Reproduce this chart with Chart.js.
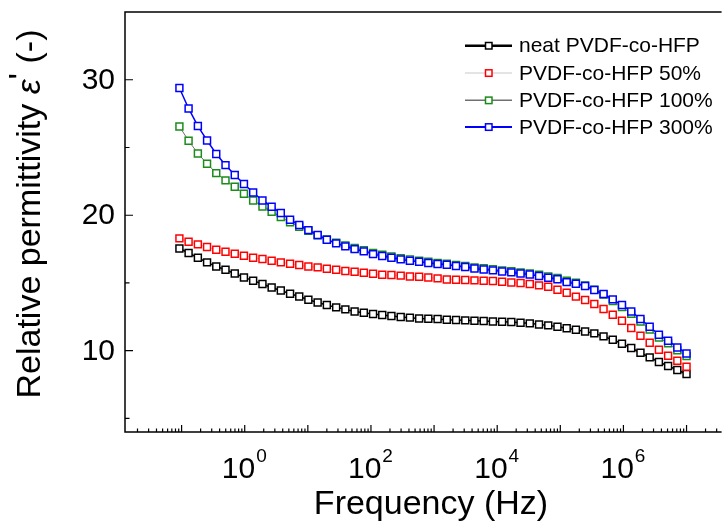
<!DOCTYPE html>
<html><head><meta charset="utf-8">
<script src="https://cdn.jsdelivr.net/npm/chart.js@4/dist/chart.umd.min.js"></script>
<style>html,body{margin:0;padding:0;background:#fff;}canvas{display:block;}</style>
</head><body>
<canvas id="c" width="726" height="521"></canvas>
<script>
// Frequency (Hz)
const frequencies = [0.0923,0.129,0.181,0.253,0.354,0.496,0.695,0.972,1.36,1.91,2.67,3.73,5.23,7.31,10.2,14.3,20.0,28.1,39.3,55.1,77.1,108,151,211,296,414,580,811,1137,1591,2228,3119,4365,6109,8551,11970,16750,23440,32810,46010,64420,90160,126200,176600,247200,345900,484200,677600,948400,1330000,1862000,2606000,3648000,5105000,7145000,10000000];
const neatPVDF = [17.55,17.21,16.86,16.52,16.22,15.98,15.70,15.41,15.17,14.92,14.67,14.45,14.21,14.00,13.76,13.56,13.37,13.20,13.05,12.90,12.80,12.71,12.63,12.56,12.49,12.44,12.38,12.36,12.34,12.29,12.27,12.24,12.21,12.19,12.16,12.14,12.12,12.07,12.02,11.94,11.87,11.77,11.66,11.55,11.42,11.28,11.06,10.81,10.52,10.20,9.85,9.51,9.17,8.87,8.58,8.28];
const pvdf50 = [18.29,18.04,17.85,17.65,17.45,17.31,17.16,17.01,16.86,16.77,16.64,16.52,16.42,16.32,16.22,16.15,16.05,15.98,15.88,15.83,15.76,15.68,15.61,15.59,15.54,15.48,15.46,15.41,15.34,15.26,15.24,15.22,15.19,15.17,15.14,15.09,15.04,15.00,14.92,14.82,14.72,14.50,14.28,13.99,13.74,13.45,13.08,12.66,12.21,11.68,11.11,10.59,10.07,9.63,9.26,8.82];
const pvdf100 = [26.55,25.50,24.56,23.80,23.11,22.57,22.10,21.59,21.09,20.65,20.26,19.87,19.47,19.15,18.85,18.52,18.22,17.98,17.77,17.58,17.41,17.22,17.08,16.95,16.83,16.73,16.65,16.56,16.48,16.43,16.33,16.26,16.15,16.08,16.01,15.93,15.86,15.78,15.71,15.60,15.48,15.37,15.16,15.02,14.82,14.50,14.15,13.67,13.22,12.73,12.16,11.57,10.98,10.54,10.04,9.60];
const pvdf300 = [29.39,27.88,26.58,25.52,24.52,23.70,22.97,22.30,21.68,21.09,20.63,20.16,19.67,19.28,18.90,18.54,18.19,17.92,17.70,17.50,17.33,17.13,16.99,16.86,16.74,16.64,16.57,16.48,16.40,16.35,16.25,16.18,16.07,16.00,15.93,15.85,15.78,15.70,15.63,15.51,15.39,15.27,15.06,14.94,14.77,14.48,14.18,13.79,13.37,12.90,12.34,11.77,11.18,10.74,10.24,9.80];
const seriesNames = ['neat PVDF-co-HFP','PVDF-co-HFP 50%','PVDF-co-HFP 100%','PVDF-co-HFP 300%'];
const yMajorTicks = [10,20,30];
const yMinorTicks = [5,15,25];
const xLabelExponents = [0,2,4,6];
const xTitle = 'Frequency (Hz)';

const FONT = '"Liberation Sans", Arial, sans-serif';
const markerColors = ['#000000','#ff0000','#1a8c1a','#0000ff'];
const lineColors = ['#000000','#c8c8c8','#707070','#0000ff'];
const lineWidths = [1.5,1,1,1.5];
const legendLineWidths = [2.5,1,1.5,2];
const seriesValues = [neatPVDF,pvdf50,pvdf100,pvdf300];

const datasets = seriesValues.map((vals,k)=>({
  label: seriesNames[k],
  data: frequencies.map((f,i)=>({x:f,y:vals[i]})),
  borderColor: lineColors[k],
  borderWidth: lineWidths[k],
  pointStyle: 'rect',
  pointRadius: 4.9,
  pointBorderWidth: 1.5,
  pointBorderColor: markerColors[k],
  pointBackgroundColor: '#ffffff',
  order: 3-k,
  tension: 0
}));

const frame = {
  id:'frame',
  afterDraw(chart){
    const {ctx, chartArea:a, scales:{x,y}} = chart;
    ctx.save();
    ctx.strokeStyle='#000'; ctx.lineWidth=1.5;
    ctx.beginPath();
    ctx.moveTo(a.right+2,a.top); ctx.lineTo(a.left,a.top); ctx.lineTo(a.left,a.bottom); ctx.lineTo(a.right+2,a.bottom);
    ctx.stroke();
    ctx.lineWidth=1.2;
    ctx.beginPath();
    yMajorTicks.forEach(v=>{const p=y.getPixelForValue(v); ctx.moveTo(a.left,p); ctx.lineTo(a.left+8,p);});
    yMinorTicks.forEach(v=>{const p=y.getPixelForValue(v); ctx.moveTo(a.left,p); ctx.lineTo(a.left+4.5,p);});
    for(let e=-3;e<=8;e++){
      for(let k=1;k<=9;k++){
        const v=k*Math.pow(10,e);
        if(v<x.min||v>x.max) continue;
        const p=x.getPixelForValue(v);
        ctx.moveTo(p,a.bottom); ctx.lineTo(p,a.bottom-(k===1?7:3.5));
      }
    }
    ctx.stroke();
    ctx.fillStyle='#000';
    ctx.font='30px '+FONT;
    ctx.textAlign='right'; ctx.textBaseline='middle';
    yMajorTicks.forEach(v=>ctx.fillText(String(v),115,y.getPixelForValue(v)+1));
    xLabelExponents.forEach(e=>{
      const p=x.getPixelForValue(Math.pow(10,e));
      ctx.font='30px '+FONT;
      const w1=ctx.measureText('10').width;
      ctx.font='19px '+FONT;
      const w2=ctx.measureText(String(e)).width;
      const start=p-(w1+w2)/2-1;
      ctx.textAlign='left'; ctx.textBaseline='alphabetic';
      ctx.font='30px '+FONT;
      ctx.fillText('10',start,478);
      ctx.font='19px '+FONT;
      ctx.fillText(String(e),start+w1+1,462);
    });
    ctx.font='34px '+FONT; ctx.textAlign='center'; ctx.textBaseline='alphabetic';
    ctx.fillText(xTitle,431,514);
    ctx.save();
    ctx.translate(40,214); ctx.rotate(-Math.PI/2);
    const parts=[['Relative permittivity ','normal'],['ε','italic'],["'",'normal'],[' (-)','normal']];
    let total=0;
    parts.forEach(([t,s])=>{ctx.font=(s==='italic'?'italic ':'')+'34px '+FONT; total+=ctx.measureText(t).width;});
    let cx=-total/2;
    ctx.textAlign='left';
    parts.forEach(([t,s],i)=>{
      ctx.font=(s==='italic'?'italic ':'')+'34px '+FONT;
      ctx.fillText(t,cx,i===2?-8:0);
      cx+=ctx.measureText(t).width;
    });
    ctx.restore();
    const rows=[45.7,73,100.3,127];
    rows.forEach((ry,k)=>{
      ctx.strokeStyle=lineColors[k]; ctx.lineWidth=legendLineWidths[k];
      ctx.beginPath(); ctx.moveTo(465,ry); ctx.lineTo(512,ry); ctx.stroke();
      ctx.fillStyle='#fff'; ctx.strokeStyle=markerColors[k]; ctx.lineWidth=1.5;
      ctx.fillRect(485.5,ry-3.2,6.5,6.5); ctx.strokeRect(485.5,ry-3.2,6.5,6.5);
      ctx.fillStyle='#000'; ctx.font='21px '+FONT; ctx.textAlign='left'; ctx.textBaseline='middle';
      ctx.fillText(seriesNames[k],519,ry+1);
    });
    ctx.restore();
  }
};

new Chart(document.getElementById('c'),{
  type:'line',
  data:{datasets},
  options:{
    responsive:false, animation:false,
    layout:{padding:{left:125,top:12,right:0,bottom:89}},
    plugins:{legend:{display:false},tooltip:{enabled:false}},
    scales:{
      x:{type:'logarithmic',min:0.01268,max:3.34e7,display:false},
      y:{type:'linear',min:4,max:35,display:false}
    }
  },
  plugins:[frame]
});
</script>
</body></html>
